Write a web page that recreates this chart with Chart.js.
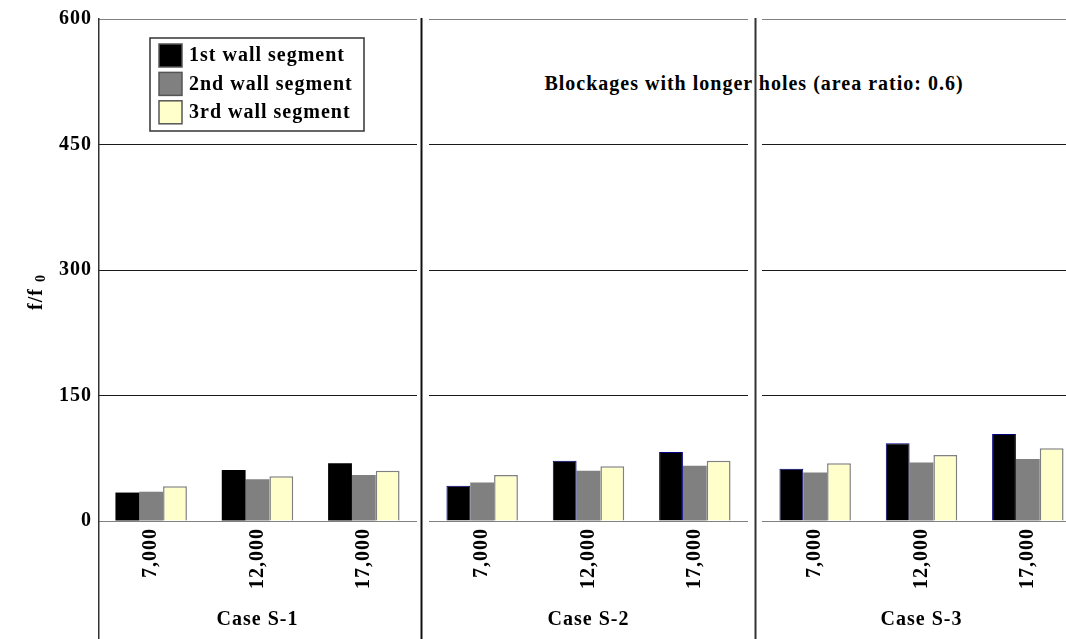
<!DOCTYPE html>
<html>
<head>
<meta charset="utf-8">
<script src="https://cdn.jsdelivr.net/npm/chart.js@4/dist/chart.umd.min.js"></script>
<style>
  html, body { margin: 0; padding: 0; background: #fff; }
  body { width: 1066px; height: 639px; overflow: hidden; position: relative; }
  .panel { position: absolute; top: 0; z-index: 1; }
  #heading {
    position: absolute; left: 454px; width: 600px; top: 72px; z-index: 0;
    text-align: center; white-space: nowrap;
    font: bold 20px/22px 'Liberation Serif', 'Times New Roman', serif;
    letter-spacing: 1px; color: #000;
  }
</style>
</head>
<body>
<div id="heading">Blockages with longer holes (area ratio: 0.6)</div>
<canvas id="p1" class="panel" width="420" height="639" style="left:0px"></canvas>
<canvas id="p2" class="panel" width="334" height="639" style="left:420px"></canvas>
<canvas id="p3" class="panel" width="330" height="639" style="left:754px"></canvas>
<script>
// Reynolds numbers per case, case names and wall segment names
const sizeLabels = ['7,000', '12,000', '17,000'];
const caseNames = ['Case S-1', 'Case S-2', 'Case S-3'];
const segmentNames = ['1st wall segment', '2nd wall segment', '3rd wall segment'];
const yTickValues = [0, 150, 300, 450, 600];

// f/f0 values, one array per case and wall segment
const caseS1First = [34, 61, 69];
const caseS1Second = [35, 50, 55];
const caseS1Third = [41.5, 53.5, 60];
const caseS2First = [42, 72, 82.5];
const caseS2Second = [46, 60, 66];
const caseS2Third = [55, 65.5, 72];
const caseS3First = [62.5, 93, 104];
const caseS3Second = [58, 70, 74];
const caseS3Third = [69, 79, 87];

const segmentColors = ['#000000', '#808080', '#ffffcc'];
const FONT_FAMILY = "'Liberation Serif', 'Times New Roman', serif";
const FONT_SIZE = 20;
const LETTER_SPACING = '1px';

Chart.defaults.font.family = FONT_FAMILY;
Chart.defaults.font.size = FONT_SIZE;
Chart.defaults.font.weight = 'bold';
Chart.defaults.color = '#000';

// slightly spaced lettering for all canvas text
const spacing = {
  id: 'spacing',
  beforeUpdate(chart) { chart.ctx.letterSpacing = LETTER_SPACING; },
  beforeDraw(chart) { chart.ctx.letterSpacing = LETTER_SPACING; }
};

// vertical divider at the left edge of a panel canvas, or the y axis line
function dividerPlugin(xFn, color, width) {
  return {
    id: 'divider',
    afterDraw(chart) {
      const ctx = chart.ctx;
      ctx.save();
      ctx.strokeStyle = color;
      ctx.lineWidth = width;
      ctx.beginPath();
      const x = xFn(chart);
      ctx.moveTo(x, chart.chartArea.top - 1);
      ctx.lineTo(x, chart.height);
      ctx.stroke();
      ctx.restore();
    }
  };
}

// boxed legend inside the first panel
const boxedLegend = {
  id: 'boxedLegend',
  afterDraw(chart) {
    const ctx = chart.ctx;
    ctx.save();
    ctx.letterSpacing = LETTER_SPACING;
    ctx.fillStyle = '#fff';
    ctx.fillRect(150, 38, 214, 93);
    ctx.strokeStyle = '#333';
    ctx.lineWidth = 1.5;
    ctx.strokeRect(150, 38, 214, 93);
    chart.data.datasets.forEach((ds, i) => {
      const y = 44 + i * 28.4;
      ctx.fillStyle = ds.backgroundColor;
      ctx.fillRect(159, y, 23, 23);
      ctx.strokeStyle = '#555';
      ctx.lineWidth = 1.5;
      ctx.strokeRect(159, y, 23, 23);
      ctx.fillStyle = '#000';
      ctx.font = 'bold ' + FONT_SIZE + 'px ' + FONT_FAMILY;
      ctx.textBaseline = 'middle';
      ctx.textAlign = 'left';
      ctx.fillText(ds.label, 189, y + 12);
    });
    ctx.restore();
  }
};

// rotated y-axis title f/f0 with subscript
const yTitle = {
  id: 'yTitle',
  afterDraw(chart) {
    const ctx = chart.ctx;
    ctx.save();
    ctx.letterSpacing = LETTER_SPACING;
    ctx.translate(42, 290);
    ctx.rotate(-Math.PI / 2);
    ctx.fillStyle = '#000';
    ctx.textAlign = 'left';
    ctx.textBaseline = 'alphabetic';
    ctx.font = 'bold ' + FONT_SIZE + 'px ' + FONT_FAMILY;
    ctx.fillText('f/f', -20, 0);
    ctx.font = 'bold 14px ' + FONT_FAMILY;
    ctx.fillText('0', 8, 3);
    ctx.restore();
  }
};

function gridColor(c) {
  const v = c.tick && c.tick.value;
  return (v === 0 || v === 600) ? '#808080' : '#1a1a1a';
}

function makePanel(id, caseIndex, first, second, third, cfg) {
  const values = [first, second, third];
  return new Chart(document.getElementById(id), {
    type: 'bar',
    data: {
      labels: sizeLabels,
      datasets: values.map((vals, i) => ({
        label: segmentNames[i],
        data: vals,
        backgroundColor: segmentColors[i],
        borderColor: i === 0 ? '#000080' : '#808080',
        borderWidth: i === 0 ? cfg.blackBorder : (i === 2 ? 1.5 : 0),
        categoryPercentage: 0.672,
        barPercentage: 1.0
      }))
    },
    options: {
      responsive: false,
      animation: false,
      devicePixelRatio: 1,
      layout: { padding: { top: 19, bottom: 0, left: cfg.padLeft, right: cfg.padRight } },
      plugins: { legend: { display: false }, tooltip: { enabled: false }, title: { display: false } },
      scales: {
        x: {
          grid: { display: false, drawTicks: false },
          border: { display: false },
          ticks: { minRotation: 90, maxRotation: 90, padding: 7, autoSkip: false },
          title: {
            display: true, text: caseNames[caseIndex],
            padding: { top: 4, bottom: 7 },
            font: { size: FONT_SIZE, weight: 'bold' }
          },
          afterFit(scale) { scale.height = 118; }
        },
        y: {
          min: yTickValues[0],
          max: yTickValues[yTickValues.length - 1],
          afterBuildTicks(scale) { scale.ticks = yTickValues.map(v => ({ value: v })); },
          grid: { color: gridColor, lineWidth: 1, drawTicks: false },
          border: { display: false },
          ticks: { display: cfg.showTicks, padding: 6 },
          afterFit(scale) { scale.width = cfg.axisWidth; }
        }
      }
    },
    plugins: cfg.plugins
  });
}

makePanel('p1', 0, caseS1First, caseS1Second, caseS1Third, {
  padLeft: 0, padRight: 3, axisWidth: 98, showTicks: true, blackBorder: 0,
  plugins: [spacing, dividerPlugin(c => c.chartArea.left + 0.75, '#333', 1.5), boxedLegend, yTitle]
});
makePanel('p2', 1, caseS2First, caseS2Second, caseS2Third, {
  padLeft: 9, padRight: 6, axisWidth: 0, showTicks: false, blackBorder: 1,
  plugins: [spacing, dividerPlugin(() => 1.5, '#111', 2)]
});
makePanel('p3', 2, caseS3First, caseS3Second, caseS3Third, {
  padLeft: 8, padRight: 3, axisWidth: 0, showTicks: false, blackBorder: 1,
  plugins: [spacing, dividerPlugin(() => 1.5, '#333', 2)]
});
</script>
</body>
</html>
